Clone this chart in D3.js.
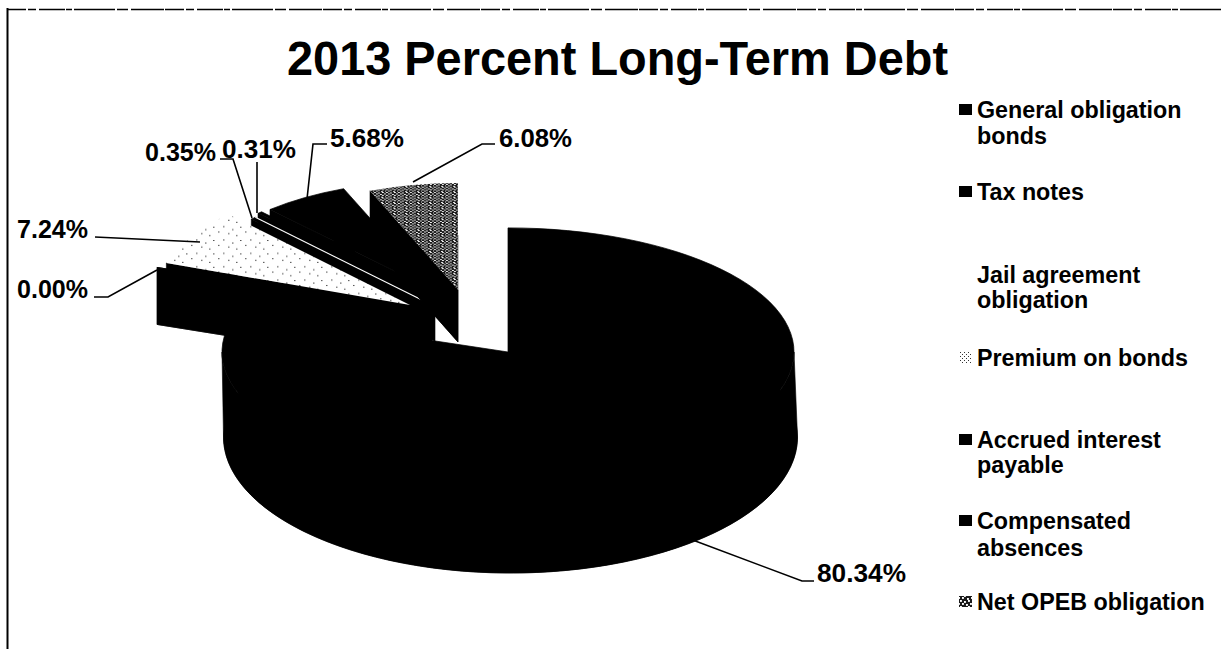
<!DOCTYPE html>
<html><head><meta charset="utf-8">
<script src="https://cdn.jsdelivr.net/npm/d3@7"></script>
<style>html,body{margin:0;background:#fff}svg{display:block}
text{font-family:"Liberation Sans",Arial,sans-serif;font-weight:700;fill:#000}</style>
</head><body><svg id="c" width="1222" height="649"></svg>
<script>
const chartTitle = "2013 Percent Long-Term Debt";
const categories = ["General obligation bonds","Tax notes","Jail agreement obligation","Premium on bonds","Accrued interest payable","Compensated absences","Net OPEB obligation"];
const values = [80.34,0,7.24,0.35,0.31,5.68,6.08];
const valueLabels = ["80.34%","0.00%","7.24%","0.35%","0.31%","5.68%","6.08%"];
const sliceFills = ["black","black","dots","black","black","black","mesh"];
const legendFills = ["black","black","white","specks","black","black","mesh"];

// Exploded 3D projection of each slice: apex, radius, vertical squash and wall height
const apexX  = [508,410,410,430,432,435,458];
const apexY  = [352,308,305,304,296,291,290];
const radius = [286,268,258,254,253,245,236];
const squash = [.434,.46,.495,.47,.45,.45,.453];
const wall   = [85,57,57,48,48,50,52];
// Perspective of the lower rim: horizontal shift, radius and squash of the floor
const floorShift  = [2.5,0,0,0,0,0,0];
const floorRadius = [287,268,258,254,253,245,236];
const floorSquash = [.474,.46,.495,.47,.45,.45,.453];
const drawOrder = [5,4,3,6,1,2,0];

// Leader lines: anchor on the slice's rim, elbow, and label placement
const labelX = [817,17,17,145,222,330,499];
const labelY = [582,298,238,161,158,147,147];
const labelW = [89,71,71,71,74,74,73];
const leaders = [[[690,539],[802,581],[814,581]],[[157,270],[108,297],[94,297]],[[200,242],[95,237]],
 [[252,218],[233,159],[220,159]],[[257,213],[257,162]],[[307,199],[313,144],[327,144]],[[413,182],[482,144],[495,144]]];

const legendX = 977, legendSwatchX = 959;
const legendRows = [[["General obligation",118],["bonds",144]],[["Tax notes",200]],[["Jail agreement",283],["obligation",308]],[["Premium on bonds",366]],[["Accrued interest",448],["payable",473]],[["Compensated",529],["absences",556]],[["Net OPEB obligation",610]]];

const svg = d3.select("#c");
const defs = svg.append("defs");

function speckle(id,size,ground,ink,cells,dot){
  const p = defs.append("pattern").attr("id",id).attr("patternUnits","userSpaceOnUse").attr("width",size).attr("height",size);
  p.append("rect").attr("width",size).attr("height",size).attr("fill",ground);
  cells.forEach(([x,y])=>p.append("rect").attr("x",x).attr("y",y).attr("width",dot).attr("height",dot).attr("fill",ink));
}
// Sparse dots on the light slice, fine specks for its key, dense grain on the dark slice
speckle("dots",27,"#fff","#111",[[2,3],[11,9],[19,4],[24,14],[7,17],[15,21]],1.5);
speckle("specks",4,"#fff","#333",[[0,0],[2,2]],1);
speckle("mesh",12,"#1a1a1a","#fff",[[0,0],[4,1],[8,0],[2,3],[6,4],[10,3],[0,6],[4,7],[8,6],[2,9],[7,10],[11,9]],1.9);

const paint = k => ["dots","specks","mesh"].includes(k)?`url(#${k})`:k==="white"?"#fff":"#000";

// Frame: solid left rule, rough dashed top rule
svg.append("line").attr("x1",7.5).attr("x2",7.5).attr("y1",8).attr("y2",649).attr("stroke","#000").attr("stroke-width",2);
svg.append("line").attr("x1",7).attr("x2",1222).attr("y1",9.5).attr("y2",9.5).attr("stroke","#000").attr("stroke-width",1.6).attr("stroke-dasharray","19 2 8 3 26 1 6 2 41 2 11 3 33 1");

svg.append("text").attr("x",287).attr("y",75).attr("font-size",49).attr("textLength",661).attr("lengthAdjust","spacingAndGlyphs").text(chartTitle);

const slices = d3.pie().sort(null).value(d=>d).startAngle(0).endAngle(2*Math.PI)(values);
const arc = d3.arc().innerRadius(0);
const pt = (i,a)=>[apexX[i]+radius[i]*Math.sin(a), apexY[i]-radius[i]*squash[i]*Math.cos(a)];
const floorPt = (i,a)=>[apexX[i]+floorShift[i]+floorRadius[i]*Math.sin(a), apexY[i]+wall[i]-floorRadius[i]*floorSquash[i]*Math.cos(a)];
const line = d3.line();

const pies = svg.append("g");
drawOrder.forEach(i=>{
  const s = slices[i];
  const g = pies.append("g").attr("stroke","#000").attr("stroke-width",.6);
  const angles = {startAngle:s.startAngle,endAngle:s.endAngle};
  // Floor of the slice, the rim turned toward the viewer, then the cut face of an exploded slice
  g.append("path").attr("d",arc({...angles,innerRadius:0,outerRadius:floorRadius[i]}))
    .attr("transform",`translate(${apexX[i]+floorShift[i]},${apexY[i]+wall[i]}) scale(1,${floorSquash[i]})`).attr("fill","#000");
  const lo = Math.max(s.startAngle,Math.PI/2), hi = Math.min(s.endAngle,Math.PI*1.5);
  if(hi>lo){
    const as = d3.range(lo,hi,0.02).concat([hi]);
    g.append("path").attr("d",line(as.map(a=>pt(i,a)).concat(as.slice().reverse().map(a=>floorPt(i,a))))+"Z").attr("fill","#000");
  }
  if(i>0){
    const e = pt(i,s.startAngle), f = floorPt(i,s.startAngle);
    g.append("path").attr("d",line([[apexX[i],apexY[i]],e,f,[apexX[i],apexY[i]+wall[i]]])+"Z").attr("fill","#000");
  }
  // Solid top faces carry a hairline outline so they close up against the rim
  g.append("path").attr("d",arc({...angles,innerRadius:0,outerRadius:radius[i]}))
    .attr("transform",`translate(${apexX[i]},${apexY[i]}) scale(1,${squash[i]})`)
    .attr("fill",paint(sliceFills[i])).attr("stroke",sliceFills[i]==="black"?"#000":"none").attr("stroke-width",1);
  // Pale seam where the two thinnest slices meet
  if(i===3) g.append("path").attr("d",line([[apexX[i],apexY[i]],pt(i,s.endAngle)])).attr("stroke","#fff").attr("stroke-width",1.1);
});

// Leaders and value labels
svg.append("g").selectAll("path").data(leaders).join("path").attr("d",d=>line(d)).attr("fill","none").attr("stroke","#000").attr("stroke-width",1.6);
svg.append("g").selectAll("text").data(valueLabels).join("text").attr("x",(d,i)=>labelX[i]).attr("y",(d,i)=>labelY[i]).attr("font-size",26).attr("textLength",(d,i)=>labelW[i]).attr("lengthAdjust","spacingAndGlyphs").text(d=>d);

// Legend
const leg = svg.append("g");
legendRows.forEach((rows,i)=>{
  const y0 = rows[0][1]-14;
  leg.append("rect").attr("x",legendSwatchX).attr("y",y0).attr("width",13).attr("height",11).attr("fill",paint(legendFills[i]));
  rows.forEach(([t,y])=>leg.append("text").attr("x",legendX).attr("y",y).attr("font-size",23.3).text(t));
});
</script></body></html>
